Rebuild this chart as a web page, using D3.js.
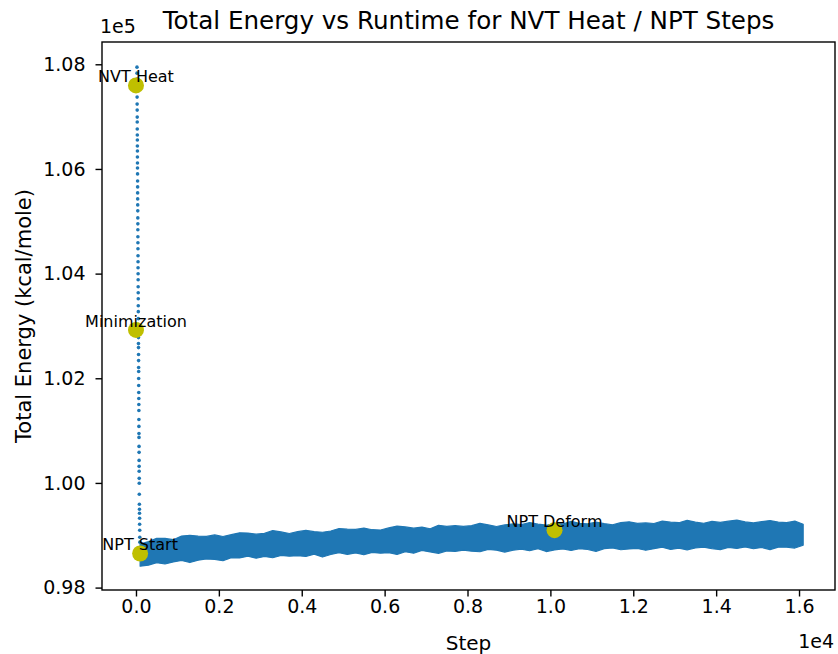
<!DOCTYPE html>
<html>
<head>
<meta charset="utf-8">
<script src="https://cdn.jsdelivr.net/npm/d3@7"></script>
<style>
  html, body { margin: 0; padding: 0; background: #ffffff; }
  svg { display: block; }
  text { font-family: "DejaVu Sans", sans-serif; fill: #000; }
</style>
</head>
<body>
<svg id="chart" width="838" height="654"></svg>
<script>
// ---------------- DATA ----------------
const chartTitle = "Total Energy vs Runtime for NVT Heat / NPT Steps";
const xLabel = "Step";
const yLabel = "Total Energy (kcal/mole)";

// Minimization + NVT heat points (vertical dotted run near step 0)
const heatSteps = [
  24,25,25,26,27,28,29,30,30,31, 32,33,34,35,35,36,37,38,39,40,
  40,41,42,43,44,45,45,46,47,48, 49,50,50,51,52,53,54,55,55,56,
  57,58,59,60,60,61,62,63,64,65, 65,66,67,68,69,70,70,71,72,73,
  74,75,75,76,77,78,79,80,82,84, 85,87,88,90,92,94,96,98
];
const heatEnergy = [
  107945,107831,107716,107487,107373,107239,107125,106991,106896,106763,
  106648,106553,106438,106343,106229,106114,106019,105905,105771,105657,
  105542,105428,105313,105199,105065,104951,104837,104703,104589,104474,
  104341,104226,104112,103998,103883,103750,103635,103521,103387,103273,
  103139,103025,102891,102777,102663,102586,102453,102338,102205,102129,
  101995,101862,101728,101614,101499,101385,101213,101080,100946,100870,
  100698,100584,100431,100317,100222,100088,99993,99783,99592,99497,
  99421,99325,99211,99097,98963,98868,98753,98658
];

// NPT run: dense scatter, described by its upper / lower edge per step
const bandSteps = [
  100,300,500,700,900,1100,1300,1500,1700,1900,
  2100,2300,2500,2700,2900,3100,3300,3500,3700,3900,
  4100,4300,4500,4700,4900,5100,5300,5500,5700,5900,
  6100,6300,6500,6700,6900,7100,7300,7500,7700,7900,
  8100,8300,8500,8700,8900,9100,9300,9500,9700,9900,
  10100,10300,10500,10700,10900,11100,11300,11500,11700,11900,
  12100,12300,12500,12700,12900,13100,13300,13500,13700,13900,
  14100,14300,14500,14700,14900,15100,15300,15500,15700,15900,
  16100
];
const bandUpper = [
  98830,98878,98941,98940,98915,98984,98999,98983,98978,99007,
  98977,99011,99046,99041,99020,99035,99090,99064,99034,99069,
  99093,99068,99058,99082,99127,99117,99111,99136,99106,99101,
  99141,99176,99160,99135,99155,99125,99189,99169,99184,99168,
  99183,99228,99198,99168,99197,99217,99202,99242,99212,99192,
  99222,99216,99266,99226,99216,99251,99221,99201,99241,99256,
  99226,99236,99225,99270,99250,99240,99285,99250,99230,99265,
  99245,99270,99290,99255,99235,99260,99280,99250,99240,99270,
  99211
];
const bandLower = [
  98410,98428,98477,98451,98491,98520,98479,98524,98548,98538,
  98513,98572,98567,98601,98561,98596,98570,98615,98600,98610,
  98594,98639,98584,98633,98668,98633,98662,98627,98672,98657,
  98667,98632,98686,98656,98711,98681,98655,98700,98690,98715,
  98695,98685,98730,98715,98679,98714,98734,98704,98744,98689,
  98719,98739,98709,98744,98728,98693,98743,98758,98723,98738,
  98748,98713,98743,98773,98728,98753,98722,98757,98772,98742,
  98727,98767,98747,98777,98742,98767,98727,98772,98771,98756,
  98810
];

// Annotated stage markers
const markerLabels = ["NVT Heat", "Minimization", "NPT Start", "NPT Deform"];
const markerSteps  = [0, 0, 100, 10100];
const markerEnergy = [107596, 102924, 98652, 99097];

// Axis ticks
const xTicks = [0, 2000, 4000, 6000, 8000, 10000, 12000, 14000, 16000];
const yTicks = [98000, 100000, 102000, 104000, 106000, 108000];
const xOffsetLabel = "1e4";
const yOffsetLabel = "1e5";

// ---------------- LAYOUT ----------------
const plot = { left: 102, right: 835, top: 42, bottom: 590 };
const blue = "#1f77b4", olive = "#bfbf00";

const svg = d3.select("#chart");

const x = d3.scaleLinear().domain([-820, 16868]).range([plot.left, plot.right]);
const y = d3.scaleLinear().domain([97954, 108426]).range([plot.bottom, plot.top]);

svg.append("defs").append("clipPath").attr("id", "clip")
  .append("rect").attr("x", plot.left).attr("y", plot.top)
  .attr("width", plot.right - plot.left).attr("height", plot.bottom - plot.top);

const g = svg.append("g").attr("clip-path", "url(#clip)");

// NPT band
const band = bandSteps.map((s, i) => ({ s, hi: bandUpper[i], lo: bandLower[i] }));
g.append("path")
  .datum(band)
  .attr("d", d3.area().x(d => x(d.s)).y0(d => y(d.lo)).y1(d => y(d.hi)))
  .attr("fill", blue)
  .attr("stroke", blue)
  .attr("stroke-width", 1.2)
  .attr("stroke-linejoin", "round");

// Heat/minimization dots
g.selectAll("circle.heat")
  .data(heatSteps.map((s, i) => ({ s, e: heatEnergy[i] })))
  .join("circle")
  .attr("class", "heat")
  .attr("cx", d => x(d.s))
  .attr("cy", d => y(d.e))
  .attr("r", 1.8)
  .attr("fill", blue);

// Markers
const markers = markerLabels.map((l, i) => ({ l, s: markerSteps[i], e: markerEnergy[i] }));
g.selectAll("circle.mk")
  .data(markers)
  .join("circle")
  .attr("class", "mk")
  .attr("cx", d => x(d.s))
  .attr("cy", d => y(d.e))
  .attr("r", 8)
  .attr("fill", olive);

svg.selectAll("text.ann")
  .data(markers)
  .join("text")
  .attr("class", "ann")
  .attr("x", d => x(d.s))
  .attr("y", d => y(d.e) - 3)
  .attr("text-anchor", "middle")
  .attr("font-size", "16px")
  .text(d => d.l);

// Axes
const fmtX = d => (d / 1e4).toFixed(1);
const fmtY = d => (d / 1e5).toFixed(2);

const xAxis = svg.append("g")
  .attr("transform", `translate(0,${plot.bottom})`)
  .call(d3.axisBottom(x).tickValues(xTicks).tickFormat(fmtX).tickSize(6.5).tickPadding(3.5).tickSizeOuter(0));
const yAxis = svg.append("g")
  .attr("transform", `translate(${plot.left},0)`)
  .call(d3.axisLeft(y).tickValues(yTicks).tickFormat(fmtY).tickSize(6.5).tickPadding(10).tickSizeOuter(0));

[xAxis, yAxis].forEach(a => {
  a.select(".domain").remove();
  a.selectAll(".tick line").attr("stroke", "#000").attr("stroke-width", 1.4);
  a.selectAll(".tick text").attr("font-size", "19px").attr("fill", "#000")
    .attr("font-family", "DejaVu Sans, sans-serif");
});

// Frame
svg.append("rect")
  .attr("x", plot.left).attr("y", plot.top)
  .attr("width", plot.right - plot.left).attr("height", plot.bottom - plot.top)
  .attr("fill", "none").attr("stroke", "#000").attr("stroke-width", 1.4);

// Title & labels
svg.append("text")
  .attr("x", (plot.left + plot.right) / 2).attr("y", 29)
  .attr("text-anchor", "middle").attr("font-size", "24.6px")
  .text(chartTitle);

svg.append("text")
  .attr("x", (plot.left + plot.right) / 2).attr("y", 650)
  .attr("text-anchor", "middle").attr("font-size", "20px")
  .text(xLabel);

svg.append("text")
  .attr("transform", `translate(31,${(plot.top + plot.bottom) / 2}) rotate(-90)`)
  .attr("text-anchor", "middle").attr("font-size", "21px")
  .text(yLabel);

svg.append("text")
  .attr("x", 100).attr("y", 33)
  .attr("text-anchor", "start").attr("font-size", "19px")
  .text(yOffsetLabel);

svg.append("text")
  .attr("x", 834).attr("y", 648)
  .attr("text-anchor", "end").attr("font-size", "19px")
  .text(xOffsetLabel);
</script>
</body>
</html>
